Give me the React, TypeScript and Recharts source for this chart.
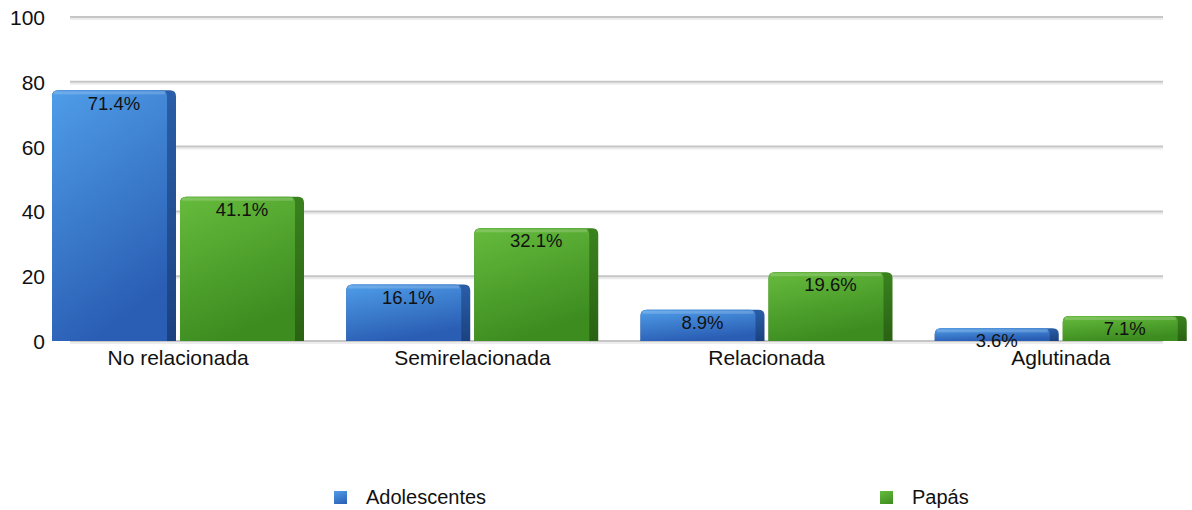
import { BarChart, Bar, XAxis, YAxis, CartesianGrid, LabelList } from 'recharts'

// ── Data ─────────────────────────────────────────────────
const categories = ['No relacionada', 'Semirelacionada', 'Relacionada', 'Aglutinada']
const adolescentes = [71.4, 16.1, 8.9, 3.6]
const papas = [41.1, 32.1, 19.6, 7.1]
const yTicks = [0, 20, 40, 60, 80, 100]

const series = [
  { key: 'adolescentes', name: 'Adolescentes', face: ['#4f9de8', '#2a5eb4'], side: ['#2a5ea8', '#1b427f'] },
  { key: 'papas', name: 'Papás', face: ['#66bb3c', '#3c8c20'], side: ['#3a821e', '#2a6213'] },
]

const data = categories.map((c, i) => ({ cat: c, adolescentes: adolescentes[i], papas: papas[i] }))

const FONT = '"Liberation Sans", Arial, Helvetica, sans-serif'

// ── 3D-ish bar shape ─────────────────────────────────────
function makeShape(idx: number) {
  return (props: any) => {
    const { x, y, width, height } = props
    if (height <= 0) return null
    const r = Math.min(6, height / 2)
    const side = 9
    const fw = width - side
    const path = (x0: number, w: number) =>
      `M${x0},${y + height} L${x0},${y + r} Q${x0},${y} ${x0 + r},${y} L${x0 + w - r},${y} Q${x0 + w},${y} ${x0 + w},${y + r} L${x0 + w},${y + height} Z`
    return (
      <g>
        <path d={path(x, width)} fill={`url(#side${idx})`} />
        <path d={path(x, fw)} fill={`url(#face${idx})`} />
        <rect x={x + 2} y={y + 1} width={fw - 4} height={Math.min(3, height / 3)} fill="#fff" opacity={0.18} />
      </g>
    )
  }
}

// ── Grid lines (shorter than the plot, with a soft shadow) ──
function GridLine(props: any) {
  const y = props.y1
  return (
    <g key={props.key}>
      <line x1={70} x2={1163} y1={y + 2} y2={y + 2} stroke="#ececec" strokeWidth={2} />
      <line x1={70} x2={1163} y1={y} y2={y} stroke="#c6c6c6" strokeWidth={2} />
    </g>
  )
}

function YTick(props: any) {
  const { y, payload } = props
  return (
    <text x={45} y={y} dy={8} textAnchor="end" fontSize={21} fill="#111" fontFamily={FONT}>
      {payload.value}
    </text>
  )
}

export default function App() {
  return (
    <div style={{ position: 'absolute', left: 0, top: 0, width: 1192, height: 510, overflow: 'hidden', background: '#fff' }}>
      <BarChart
        width={1220}
        height={400}
        data={data}
        margin={{ top: 17, right: 12, left: 0, bottom: 0 }}
        barSize={124}
        barGap={4}
        barCategoryGap={21}
      >
        <defs>
          {series.map((s, i) => (
            <g key={s.key}>
              <linearGradient id={`face${i}`} x1="0" y1="0" x2="0.35" y2="1">
                <stop offset="0%" stopColor={s.face[0]} />
                <stop offset="100%" stopColor={s.face[1]} />
              </linearGradient>
              <linearGradient id={`side${i}`} x1="0" y1="0" x2="0" y2="1">
                <stop offset="0%" stopColor={s.side[0]} />
                <stop offset="100%" stopColor={s.side[1]} />
              </linearGradient>
            </g>
          ))}
        </defs>
        <CartesianGrid yAxisId="g" vertical={false} horizontal={GridLine} />
        <XAxis
          dataKey="cat"
          axisLine={false}
          tickLine={false}
          height={59}
          tickMargin={3}
          tick={{ fontSize: 21, fill: '#111', fontFamily: FONT }}
        />
        <YAxis
          yAxisId="g"
          domain={[0, 100]}
          allowDataOverflow
          ticks={yTicks}
          width={31}
          axisLine={false}
          tickLine={false}
          interval={0}
          tick={YTick}
        />
        <YAxis yAxisId="b" domain={[0, 92.3]} allowDataOverflow hide />
        {series.map((s, i) => (
          <Bar key={s.key} dataKey={s.key} name={s.name} yAxisId="b" shape={makeShape(i)} isAnimationActive={false}>
            <LabelList
              dataKey={s.key}
              position="insideTop"
              offset={6}
              formatter={(v: any) => `${v}%`}
              style={{ fontSize: 18.5, fill: '#111', fontFamily: FONT }}
            />
          </Bar>
        ))}
      </BarChart>
      {series.map((s, i) => (
        <div
          key={s.key}
          style={{
            position: 'absolute',
            top: 486,
            left: i === 0 ? 334 : 880,
            display: 'flex',
            alignItems: 'center',
            fontFamily: FONT,
            fontSize: 20,
            color: '#111',
          }}
        >
          <span
            style={{
              width: 13,
              height: 13,
              marginRight: 19,
              background: `linear-gradient(160deg, ${s.face[0]}, ${s.face[1]})`,
            }}
          />
          {s.name}
        </div>
      ))}
    </div>
  )
}
